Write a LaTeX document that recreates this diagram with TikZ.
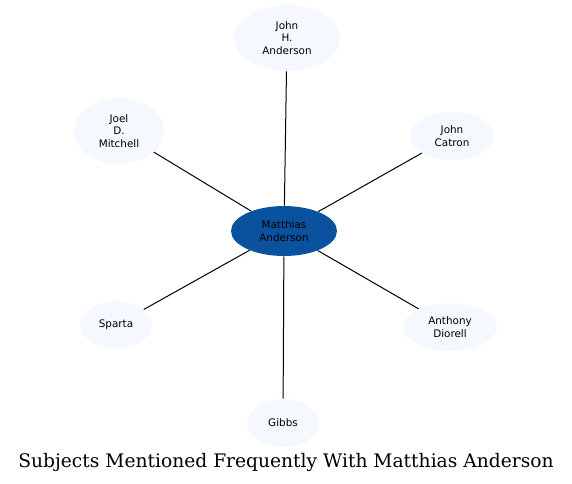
\documentclass[tikz,border=0pt]{standalone}
\usepackage{fontspec}
\setmainfont{DejaVu Serif}
\newfontfamily\nodefont{DejaVu Sans}
\usetikzlibrary{shapes.geometric}
\definecolor{lightnode}{HTML}{F5F9FF}
\definecolor{centernode}{HTML}{0A519E}
\begin{document}
\begin{tikzpicture}[x=0.75pt,y=-0.75pt,
  subj/.style={ellipse,fill=lightnode,draw=none,inner sep=0pt,align=center,
    font=\nodefont\fontsize{7.8}{9.4}\selectfont},
  hub/.style={subj,fill=centernode},
  link/.style={draw=black,line width=0.75pt}]
\useasboundingbox (0,0) rectangle (572,483);
\node[hub,minimum width=79.5pt,minimum height=37.5pt] (m) at (284,231) {Matthias\\Anderson};
\node[subj,minimum width=79.5pt,minimum height=49.5pt] (jha) at (287,38) {John\\H.\\Anderson};
\node[subj,minimum width=67.5pt,minimum height=49.5pt] (jdm) at (119,131) {Joel\\D.\\Mitchell};
\node[subj,minimum width=63pt,minimum height=36pt] (jc) at (452,136) {John\\Catron};
\node[subj,minimum width=54pt,minimum height=36pt] (sp) at (116,325) {Sparta};
\node[subj,minimum width=70.5pt,minimum height=36pt] (ad) at (450,327) {Anthony\\Diorell};
\node[subj,minimum width=54pt,minimum height=36pt] (gb) at (283,423) {Gibbs};
\draw[link] (m) -- (jha);
\draw[link] (m) -- (jdm);
\draw[link] (m) -- (jc);
\draw[link] (m) -- (sp);
\draw[link] (m) -- (ad);
\draw[link] (m) -- (gb);
\node[font=\fontsize{14}{16}\selectfont,inner sep=0pt] (title) at (286,462) {Subjects Mentioned Frequently With Matthias Anderson};
\end{tikzpicture}
\end{document}
